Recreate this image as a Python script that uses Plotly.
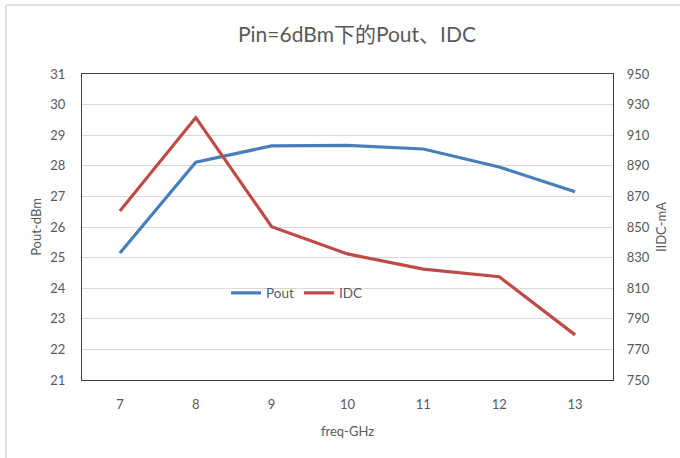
import plotly.graph_objects as go

# Frequency sweep at Pin = 6 dBm
freq_ghz = [7, 8, 9, 10, 11, 12, 13]
pout_dbm = [25.15, 28.12, 28.65, 28.67, 28.55, 27.96, 27.15]
idc_ma = [860.5, 921.5, 850.2, 832.4, 822.5, 817.5, 779.5]

left_ticks = list(range(21, 32))
right_ticks = list(range(750, 951, 20))

FONT = "Lato, 'Noto Sans CJK SC', sans-serif"
GREY = "#595959"

# plot-area geometry in pixels (used to place the outer frame)
W, H = 680, 458
ML, MR, MT, MB = 82, 67, 74, 78
PW, PH = W - ML - MR, H - MT - MB


def px_x(x):
    return (x - ML) / PW


def px_y(y):
    return (H - MB - y) / PH


fig = go.Figure()
fig.add_trace(go.Scatter(
    x=freq_ghz, y=pout_dbm, name="Pout", mode="lines",
    line=dict(color="#4a7ebb", width=3.2), yaxis="y"))
fig.add_trace(go.Scatter(
    x=freq_ghz, y=idc_ma, name="IDC", mode="lines",
    line=dict(color="#be4b48", width=3.2), yaxis="y2"))

fig.update_layout(
    width=W, height=H,
    margin=dict(l=ML, r=MR, t=MT, b=MB),
    paper_bgcolor="white", plot_bgcolor="white",
    font=dict(family=FONT, color=GREY, size=13),
    title=dict(text="Pin=6dBm下的Pout、IDC", x=357 / W, xanchor="center",
               y=1 - 35 / H, yanchor="middle",
               font=dict(size=21, color=GREY, family=FONT)),
    xaxis=dict(range=[6.5, 13.5], tickvals=freq_ghz, showgrid=False,
               zeroline=False, ticks="", ticklabelstandoff=12,
               showline=True, linecolor="#404040", linewidth=1.3, mirror=True,
               title=dict(text="freq-GHz", standoff=16, font=dict(size=13))),
    yaxis=dict(range=[21, 31], tickvals=left_ticks, showgrid=True,
               gridcolor="#d9d9d9", gridwidth=1, zeroline=False, ticks="",
               ticklabelstandoff=13,
               showline=True, linecolor="#404040", linewidth=1.3,
               title=dict(text="Pout-dBm", standoff=5, font=dict(size=13))),
    yaxis2=dict(range=[750, 950], tickvals=right_ticks, overlaying="y",
                side="right", showgrid=False, zeroline=False, ticks="",
                ticklabelstandoff=10,
                showline=True, linecolor="#404040", linewidth=1.3,
                title=dict(text="IIDC-mA", standoff=8, font=dict(size=13))),
    legend=dict(orientation="h", x=px_x(297), y=px_y(293), xanchor="center",
                yanchor="middle", bgcolor="rgba(0,0,0,0)",
                font=dict(size=13.5, color=GREY), itemwidth=30,
                tracegroupgap=0),
    showlegend=True,
    shapes=[
        dict(type="line", xref="paper", yref="paper",
             x0=px_x(6), x1=px_x(6), y0=px_y(5), y1=px_y(458),
             line=dict(color="#d9d9d9", width=1.5)),
        dict(type="line", xref="paper", yref="paper",
             x0=px_x(6), x1=px_x(680), y0=px_y(5), y1=px_y(5),
             line=dict(color="#d9d9d9", width=1.5)),
    ],
)

fig.write_html("out.html")
